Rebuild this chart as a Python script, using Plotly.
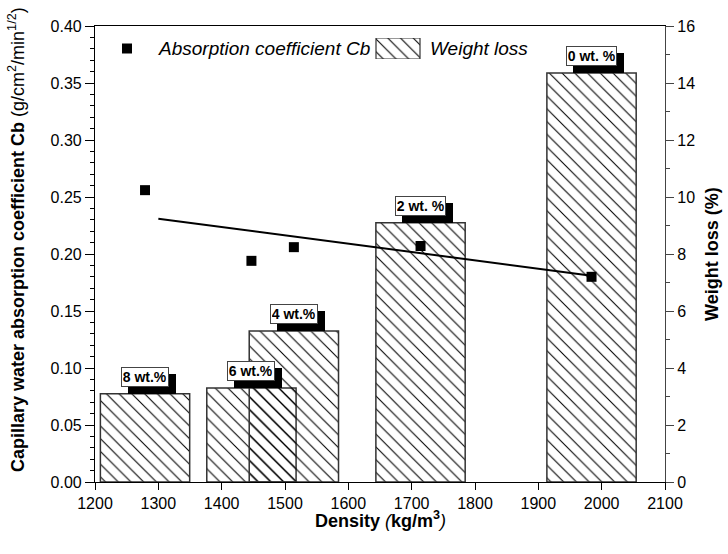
import plotly.graph_objects as go

# Sample data: density of each mix, capillary absorption coefficient and weight loss
density = [1279, 1447, 1514, 1714, 1984]
cb = [0.256, 0.194, 0.206, 0.207, 0.180]
weight_loss = [3.1, 3.3, 5.3, 9.1, 14.35]
bar_labels = ["8 wt.%", "6 wt.%", "4 wt.%", "2 wt. %", "0 wt. %"]
bar_width = 141

# Linear trend of the absorption coefficient
trend_x = [1300, 1984]
trend_y = [0.231, 0.181]

FONT = "Liberation Sans, Arial, sans-serif"
W, H = 728, 554
ML, MR, MT, MB = 95, 63, 26, 72
PW, PH = W - ML - MR, H - MT - MB
LABEL_SIZE = 14

# bold Arial advance widths (em) for the characters used in the bar labels
BOLD_EM = {"w": 0.778, "t": 0.333, ".": 0.278, "%": 0.889, " ": 0.278}


def label_width(text, size):
    return sum(BOLD_EM.get(ch, 0.556) for ch in text) * size


def py(px):
    """paper y from a pixel row"""
    return 1 - (px - MT) / PH


def pxx(px):
    """paper x from a pixel column"""
    return (px - ML) / PW


hatch = dict(shape="\\", fgcolor="black", fgopacity=1, size=9, solidity=0.12,
             fillmode="overlay")

fig = go.Figure()

# Weight loss bars (hatched, transparent so overlaps show both hatchings)
fig.add_trace(go.Bar(
    x=density, y=weight_loss, width=[bar_width] * len(density),
    yaxis="y", xaxis="x",
    marker=dict(
        color="rgba(0,0,0,0)",
        line=dict(color="#333333", width=1.5),
        pattern=dict(hatch, bgcolor="rgba(0,0,0,0)"),
    ),
    showlegend=False,
))

# Trend line and absorption points on the Cb axis
fig.add_trace(go.Scatter(
    x=trend_x, y=trend_y, mode="lines", yaxis="y2", xaxis="x",
    line=dict(color="black", width=2), showlegend=False,
))
fig.add_trace(go.Scatter(
    x=density, y=cb, mode="markers", yaxis="y2", xaxis="x",
    marker=dict(symbol="square", size=10, color="black"),
    showlegend=False,
))

# Legend row drawn on its own small axes
fig.add_trace(go.Scatter(
    x=[32], y=[0.5], mode="markers", xaxis="x3", yaxis="y3",
    marker=dict(symbol="square", size=10, color="black"), showlegend=False,
))
fig.add_trace(go.Bar(
    x=[303], y=[1], width=[44], xaxis="x3", yaxis="y3",
    marker=dict(
        color="white", line=dict(color="#333333", width=1.2),
        pattern=dict(hatch, bgcolor="white"),
    ),
    showlegend=False,
))

annotations = []

# Labelled boxes with a black drop shadow above each bar
for xv, yv, lab in zip(density, weight_loss, bar_labels):
    annotations.append(dict(
        x=xv, y=yv, xref="x", yref="y", text="&nbsp;",
        width=label_width(lab, LABEL_SIZE), height=LABEL_SIZE * 1.15,
        showarrow=False, xanchor="center", yanchor="bottom",
        xshift=7, yshift=0,
        font=dict(family=FONT, size=LABEL_SIZE, color="black"),
        bgcolor="black", bordercolor="black", borderwidth=1, borderpad=1,
    ))
    annotations.append(dict(
        x=xv, y=yv, xref="x", yref="y", text=f"<b>{lab}</b>",
        width=label_width(lab, LABEL_SIZE), height=LABEL_SIZE * 1.15,
        showarrow=False, xanchor="center", yanchor="bottom",
        xshift=0, yshift=7,
        font=dict(family=FONT, size=LABEL_SIZE, color="black"),
        bgcolor="white", bordercolor="#444444", borderwidth=1, borderpad=1,
    ))

# Legend texts
annotations.append(dict(
    x=61, y=0.5, xref="x3", yref="y3", text="<i>Absorption coefficient Cb</i>",
    showarrow=False, xanchor="left", yanchor="middle",
    font=dict(family=FONT, size=19, color="black"),
))
annotations.append(dict(
    x=333, y=0.5, xref="x3", yref="y3", text="<i>Weight loss</i>",
    showarrow=False, xanchor="left", yanchor="middle",
    font=dict(family=FONT, size=19, color="black"),
))

# Axis titles
annotations.append(dict(
    x=pxx(16), y=py(240), xref="paper", yref="paper",
    text="<b>Capillary water absorption coefficient Cb</b> (g/cm<sup>2</sup>/min<sup>1/2</sup>)",
    textangle=-90, showarrow=False, xanchor="center", yanchor="middle",
    font=dict(family=FONT, size=18, color="black"),
))
annotations.append(dict(
    x=pxx(712), y=py(254), xref="paper", yref="paper",
    text="<b>Weight loss (%)</b>",
    textangle=-90, showarrow=False, xanchor="center", yanchor="middle",
    font=dict(family=FONT, size=18, color="black"),
))
annotations.append(dict(
    x=0.5, y=py(519), xref="paper", yref="paper",
    text="<b>Density </b><i>(</i><b>kg/m<sup>3</sup></b><i>)</i>",
    showarrow=False, xanchor="center", yanchor="middle",
    font=dict(family=FONT, size=18, color="black"),
))

tickfont = dict(family=FONT, size=16, color="black")

fig.update_layout(
    width=W, height=H,
    margin=dict(l=ML, r=MR, t=MT, b=MB, autoexpand=False),
    paper_bgcolor="white", plot_bgcolor="white",
    barmode="overlay",
    showlegend=False,
    annotations=annotations,
    xaxis=dict(
        domain=[0, 1], range=[1200, 2100], tickmode="linear", tick0=1200, dtick=100,
        showline=True, linecolor="black", linewidth=1.2, mirror=True,
        ticks="outside", ticklen=7, tickcolor="black", tickwidth=1.2,
        showgrid=False, zeroline=False, tickfont=tickfont,
    ),
    yaxis=dict(
        domain=[0, 1], range=[0, 16], side="right", tickmode="linear", tick0=0, dtick=2,
        showline=True, linecolor="#444444", linewidth=1.2,
        ticks="outside", ticklen=8, tickcolor="#444444", tickwidth=1.2,
        minor=dict(dtick=1, ticks="outside", ticklen=4, tickcolor="#444444"),
        showgrid=False, zeroline=False, tickfont=tickfont,
    ),
    yaxis2=dict(
        overlaying="y", range=[0, 0.40], side="left", tickmode="linear", tick0=0, dtick=0.05,
        tickformat=".2f",
        showline=True, linecolor="black", linewidth=1.2,
        ticks="outside", ticklen=9, tickcolor="black", tickwidth=1.2,
        minor=dict(dtick=0.01, ticks="outside", ticklen=4, tickcolor="black"),
        showgrid=False, zeroline=False, tickfont=tickfont,
    ),
    xaxis3=dict(
        domain=[0, 1], range=[0, PW], anchor="y3",
        visible=False, fixedrange=True,
    ),
    yaxis3=dict(
        domain=[py(59), py(38)], range=[0, 1], anchor="x3",
        visible=False, fixedrange=True,
    ),
)

fig.write_html("out.html")
